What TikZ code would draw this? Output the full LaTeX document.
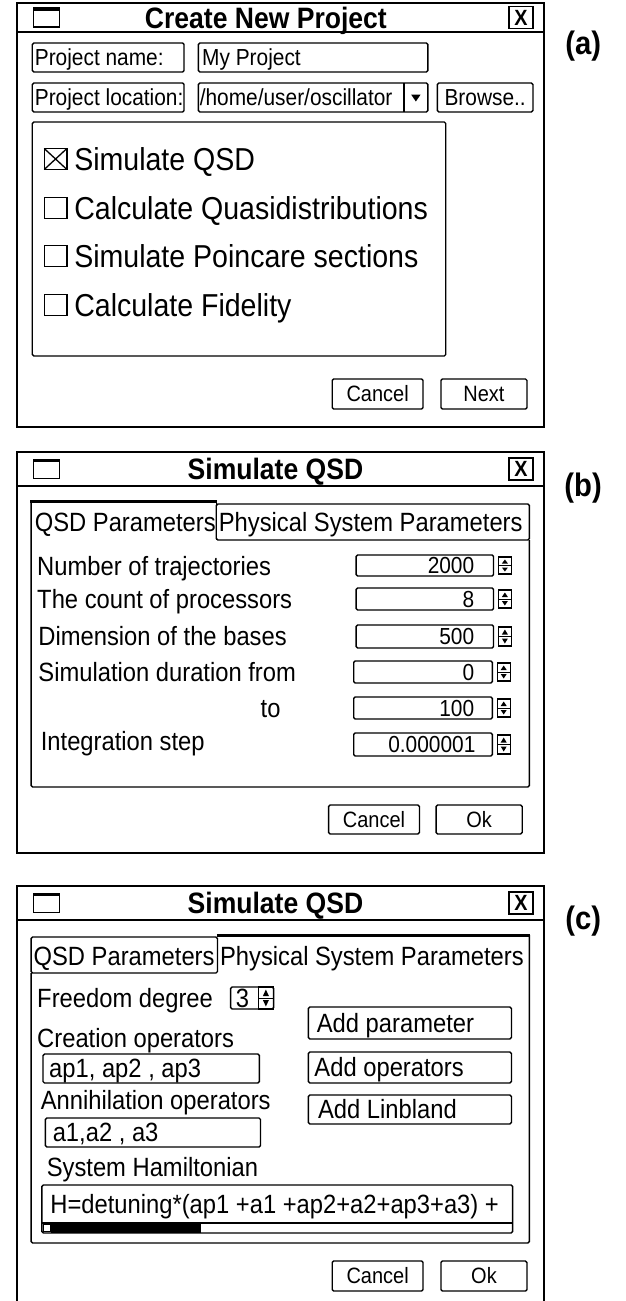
\documentclass[tikz,border=0pt]{standalone}
\usepackage{fontspec}
\newfontfamily\uif[FakeStretch=0.9]{Liberation Sans}
\tikzset{
 win/.style={line width=1.8pt},
 box/.style={line width=1.4pt, rounded corners=1.5pt},
 tx/.style={inner sep=0pt, text depth=0pt},
 f30/.style={tx, font=\uif\fontsize{31.7}{38}\selectfont, text height=22.7pt},
 f25/.style={tx, font=\uif\fontsize{26.4}{32}\selectfont, text height=18.9pt},
 f22/.style={tx, font=\uif\fontsize{23.2}{28}\selectfont, text height=16.6pt},
 f21/.style={tx, font=\uif\fontsize{22.2}{27}\selectfont, text height=15.9pt},
 ttl/.style={tx, font=\uif\bfseries\fontsize{29.5}{35}\selectfont, text height=21pt},
 xmark/.style={tx, font=\uif\bfseries\fontsize{22}{26}\selectfont, text height=15.8pt},
 tag/.style={tx, font=\uif\bfseries\fontsize{32.5}{39}\selectfont, text height=23pt},
}
% window frame: #1 prefix, #2 top, #3 title line, #4 bottom, #5 title x, #6 title, #7 tag y, #8 tag
\newcommand\dlgwin[8]{%
 \draw[win] (14,#2) rectangle (455,#4);
 \draw[win] (14,#3) -- (455,#3);
 \draw[line width=1.4pt] (28,{(#2+#3)/2-9.5}) rectangle (50,{(#2+#3)/2+9.5});
 \draw[line width=3pt] (28,{(#2+#3)/2-8.5}) -- (50,{(#2+#3)/2-8.5});
 \draw[line width=1.8pt] (426,{(#2+#3)/2-11}) rectangle (446,{(#2+#3)/2+11});
 \node[xmark] (#1x) at (436,{(#2+#3)/2}) {X};
 \node[ttl] (#1t) at (#5,{(#2+#3)/2}) {#6};
 \node[tag] (#1g) at (488,#7) {#8};
}
% spinner: #1 x1, #2 y1, #3 x2, #4 y2
\newcommand\spinbox[4]{%
 \draw[line width=1.2pt] (#1,#2) rectangle (#3,#4);
 \draw[line width=1pt] (#1,{(#2+#4)/2}) -- (#3,{(#2+#4)/2});
 \fill ({(#1+#3)/2},{#2+2.5}) -- ({(#1+#3)/2-2.5},{(#2+#4)/2-2}) -- ({(#1+#3)/2+2.5},{(#2+#4)/2-2}) -- cycle;
 \fill ({(#1+#3)/2},{#4-2.5}) -- ({(#1+#3)/2-2.5},{(#2+#4)/2+2}) -- ({(#1+#3)/2+2.5},{(#2+#4)/2+2}) -- cycle;
}
\begin{document}
\begin{tikzpicture}[x=1.195pt,y=-1pt]
\useasboundingbox (0,0) rectangle (523.01,1301);

% ================= (a) =================
\dlgwin{a}{3}{32}{427}{222.5}{Create New Project}{43}{(a)}
\draw[box] (27,43) rectangle (154,72);
\node[f22,anchor=west] (pn) at (29,57.5) {Project name:};
\draw[box] (166,43) rectangle (358,72);
\node[f22,anchor=west] (pv) at (169,57.5) {My Project};
\draw[box] (27,83) rectangle (154,112);
\node[f22,anchor=west] (pl) at (29,97.5) {Project location:};
\draw[box] (166,83) rectangle (358,112);
\draw[line width=1.4pt] (338,83) -- (338,112);
\node[f22,anchor=west] (lv) at (167,97.5) {/home/user/oscillator};
\fill (344,94.5) -- (352,94.5) -- (348,101.5) -- cycle;
\draw[box] (366,83) rectangle (446,112);
\node[f22] (br) at (406,97.5) {Browse..};

\draw[box] (27,122) rectangle (373,356);
\foreach \yy/\nm/\txt in {159/c1/Simulate QSD, 208/c2/Calculate Quasidistributions, 256/c3/Simulate Poincare sections, 305/c4/Calculate Fidelity}{
  \draw[line width=1.4pt] (37,\yy-10.5) rectangle (56,\yy+10.5);
  \node[f30,anchor=west] (\nm) at (62,\yy) {\txt};
}
\draw[line width=1.3pt] (37,148.5) -- (56,169.5) (56,148.5) -- (37,169.5);

\draw[box] (278,379) rectangle (354,409);
\node[f21] (acan) at (316,394) {Cancel};
\draw[box] (369,379) rectangle (441,409);
\node[f21] (anext) at (405,394) {Next};

% ================= (b) =================
\dlgwin{b}{452}{486}{853}{230.5}{Simulate QSD}{485}{(b)}
\draw[box] (443,540) -- (443,787) -- (26,787) -- (26,501);
\draw[box] (181,540) rectangle (443,504);
\draw[line width=3pt] (25.5,501) -- (181.5,501);
\draw[line width=1.4pt] (181,501) -- (181,540);
\node[f25,anchor=west] (bt1) at (29,522) {QSD Parameters};
\node[f25,anchor=west] (bt2) at (183,522) {Physical System Parameters};

\node[f25,anchor=west] (bl1) at (31,566) {Number of trajectories};
\node[f25,anchor=west] (bl2) at (31,599) {The count of processors};
\node[f25,anchor=west] (bl3) at (32,636) {Dimension of the bases};
\node[f25,anchor=west] (bl4) at (32,672) {Simulation duration from};
\node[f25,anchor=west] (bl5) at (218,708) {to};
\node[f25,anchor=west] (bl6) at (34,741) {Integration step};

\draw[box] (298,555) rectangle (413,576);
\node[f22,anchor=east] (bv1) at (397,565.5) {2000};
\spinbox{417}{557}{428}{574}
\draw[box] (298,588) rectangle (413,610);
\node[f22,anchor=east] (bv2) at (397,599) {8};
\spinbox{417}{590}{428}{608}
\draw[box] (298,625) rectangle (413,648);
\node[f22,anchor=east] (bv3) at (397,636.5) {500};
\spinbox{417}{627}{428}{646}
\draw[box] (296,661) rectangle (412,683);
\node[f22,anchor=east] (bv4) at (397,672) {0};
\spinbox{416}{663}{427}{681}
\draw[box] (296,697) rectangle (412,719);
\node[f22,anchor=east] (bv5) at (397,708) {100};
\spinbox{416}{699}{427}{717}
\draw[box] (296,733) rectangle (412,756);
\node[f22,anchor=east] (bv6) at (398,744.5) {0.000001};
\spinbox{416}{735}{427}{754}

\draw[box] (275,805) rectangle (351,834);
\node[f21] (bcan) at (313,819.5) {Cancel};
\draw[box] (365,805) rectangle (437,834);
\node[f21] (bok) at (401,819.5) {Ok};

% ================= (c) =================
\dlgwin{c}{886}{920}{1320}{230.5}{Simulate QSD}{918}{(c)}
\draw[box] (26,973) rectangle (182,937);
\draw[box] (26,973) -- (26,1243) -- (443,1243) -- (443,935);
\draw[line width=3pt] (181.5,935) -- (443.5,935);
\node[f25,anchor=west] (ct1) at (28,956) {QSD Parameters};
\node[f25,anchor=west] (ct2) at (184,956) {Physical System Parameters};

\node[f25,anchor=west] (cfd) at (31,998) {Freedom degree};
\draw[box] (193,987) rectangle (229,1009);
\node[f25] (cfv) at (203,998) {3};
\spinbox{216}{987}{229}{1009}

\draw[box] (258,1007) rectangle (428,1039);
\node[f25,anchor=west] (cap) at (265,1023) {Add parameter};
\node[f25,anchor=west] (ccr) at (31,1038) {Creation operators};
\draw[box] (36,1054) rectangle (217,1083);
\node[f25,anchor=west] (ccv) at (41,1068.5) {ap1, ap2 , ap3};
\draw[box] (258,1052) rectangle (428,1083);
\node[f25,anchor=west] (cao) at (263,1067.5) {Add operators};
\node[f25,anchor=west] (can) at (34,1100) {Annihilation operators};
\draw[box] (258,1095) rectangle (428,1124);
\node[f25,anchor=west] (cal) at (266,1109.5) {Add Linbland};
\draw[box] (38,1118) rectangle (218,1147);
\node[f25,anchor=west] (canv) at (44,1132.5) {a1,a2 , a3};
\node[f25,anchor=west] (csh) at (39,1167) {System Hamiltonian};

\draw[box] (35,1185) rectangle (429,1233);
\draw[line width=1.4pt] (35,1223) -- (429,1223);
\fill (43,1223) rectangle (168,1232.5);
\draw[line width=1pt] (36.5,1224.5) rectangle (42.5,1231.5);
\node[f25,anchor=west] (cham) at (42,1204) {H=detuning*(ap1 +a1 +ap2+a2+ap3+a3) +};

\draw[box] (278,1261) rectangle (354,1291);
\node[f21] (ccan) at (316,1276) {Cancel};
\draw[box] (369,1261) rectangle (441,1291);
\node[f21] (cok) at (405,1276) {Ok};
\end{tikzpicture}
\end{document}
